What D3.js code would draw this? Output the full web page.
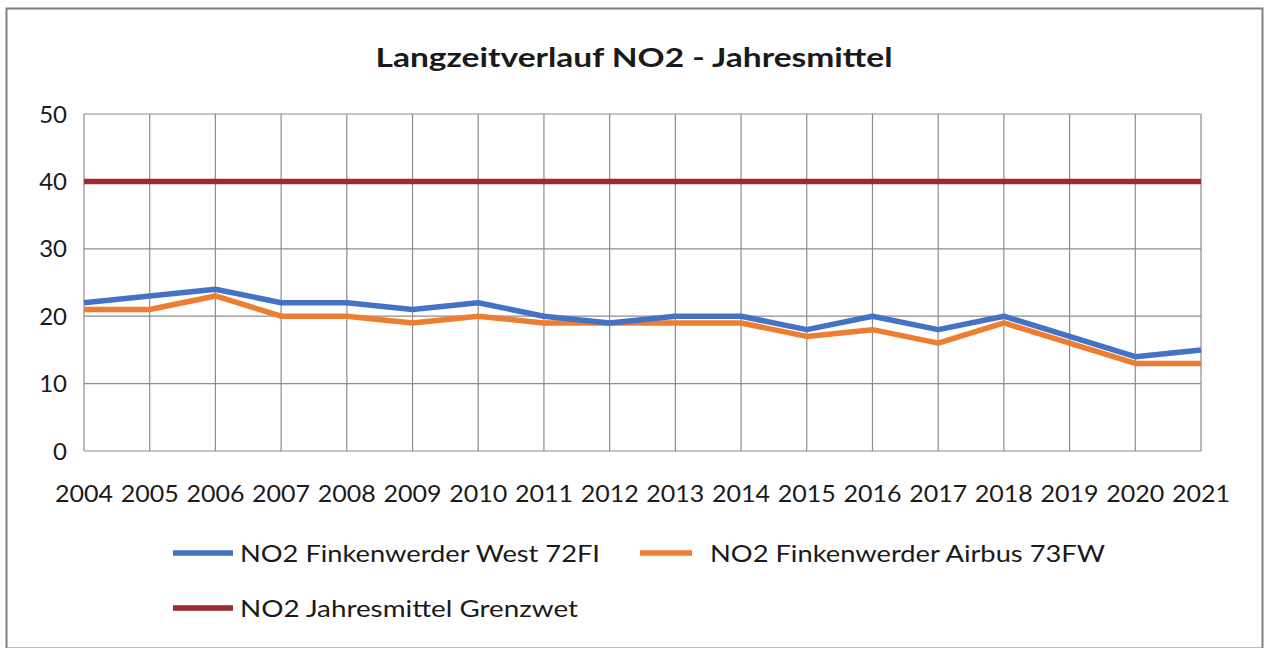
<!DOCTYPE html>
<html>
<head>
<meta charset="utf-8">
<script src="https://cdn.jsdelivr.net/npm/d3@7"></script>
<style>
  body { margin: 0; background: #fff; }
  text { font-family: Lato, "Open Sans", sans-serif; fill: #1a1a1a; }
</style>
</head>
<body>
<svg id="chart"></svg>
<script>
// chart data
const years = [2004, 2005, 2006, 2007, 2008, 2009, 2010, 2011, 2012, 2013, 2014, 2015, 2016, 2017, 2018, 2019, 2020, 2021];
const west72FI = [22, 23, 24, 22, 22, 21, 22, 20, 19, 20, 20, 18, 20, 18, 20, 17, 14, 15];
const airbus73FW = [21, 21, 23, 20, 20, 19, 20, 19, 19, 19, 19, 17, 18, 16, 19, 16, 13, 13];
const grenzwert = [40, 40, 40, 40, 40, 40, 40, 40, 40, 40, 40, 40, 40, 40, 40, 40, 40, 40];
const yTicks = [0, 10, 20, 30, 40, 50];

const seriesNames = ["NO2 Finkenwerder West 72FI", "NO2 Finkenwerder Airbus 73FW", "NO2 Jahresmittel Grenzwet"];
const seriesColors = ["#4472C4", "#ED7D31", "#9E2A2F"];

const width = 1265, height = 648;
const margin = { left: 84, right: 64, top: 114, bottom: 197 };

const svg = d3.select("#chart")
    .attr("width", width)
    .attr("height", height);

// outer frame
svg.append("rect")
    .attr("x", 6.5).attr("y", 8.5)
    .attr("width", 1256).attr("height", 640)
    .attr("fill", "#fff")
    .attr("stroke", "#7f7f7f")
    .attr("stroke-width", 2);

const x = d3.scalePoint()
    .domain(years)
    .range([margin.left, width - margin.right]);

const y = d3.scaleLinear()
    .domain([0, 50])
    .range([height - margin.bottom, margin.top]);

// gridlines
const grid = svg.append("g").attr("stroke", "#8c8c8c").attr("stroke-width", 1.2);
grid.selectAll(".h")
    .data(yTicks)
    .join("line")
    .attr("x1", x.range()[0]).attr("x2", x.range()[1])
    .attr("y1", d => y(d)).attr("y2", d => y(d));
grid.selectAll(".v")
    .data(years)
    .join("line")
    .attr("x1", d => x(d)).attr("x2", d => x(d))
    .attr("y1", y(0)).attr("y2", y(50));

// y axis labels
svg.append("g")
    .selectAll("text")
    .data(yTicks)
    .join("text")
    .attr("x", 67)
    .attr("y", d => y(d))
    .attr("dy", "0.36em")
    .attr("text-anchor", "end")
    .attr("font-size", 24)
    .text(d => d);

// x axis labels
svg.append("g")
    .selectAll("text")
    .data(years)
    .join("text")
    .attr("x", d => x(d))
    .attr("y", 502)
    .attr("text-anchor", "middle")
    .attr("font-size", 24)
    .attr("textLength", 58)
    .attr("lengthAdjust", "spacingAndGlyphs")
    .text(d => d);

// lines
const line = d3.line()
    .x((d, i) => x(years[i]))
    .y(d => y(d));

const allSeries = [west72FI, airbus73FW, grenzwert];
// draw red first, then orange, then blue on top
[2, 1, 0].forEach(k => {
    svg.append("path")
        .datum(allSeries[k])
        .attr("fill", "none")
        .attr("stroke", seriesColors[k])
        .attr("stroke-width", 5.5)
        .attr("stroke-linejoin", "round")
        .attr("d", line);
});

// title
svg.append("text")
    .attr("x", 634)
    .attr("y", 67)
    .attr("text-anchor", "middle")
    .attr("font-size", 27)
    .attr("font-weight", "bold")
    .attr("textLength", 517)
    .attr("lengthAdjust", "spacingAndGlyphs")
    .text("Langzeitverlauf NO2 - Jahresmittel");

// legend
const legendItems = [
    { x: 173, y: 553, w: 360 },
    { x: 640, y: 553, w: 395 },
    { x: 173, y: 608, w: 338 }
];
const legend = svg.append("g")
    .selectAll("g")
    .data(seriesNames)
    .join("g")
    .attr("transform", (d, i) => `translate(${legendItems[i].x},${legendItems[i].y})`);
legend.append("line")
    .attr("x1", 0).attr("x2", (d, i) => i === 1 ? 52 : 60)
    .attr("stroke", (d, i) => seriesColors[i])
    .attr("stroke-width", 5.5);
legend.append("text")
    .attr("x", (d, i) => i === 1 ? 70 : 67)
    .attr("dy", "0.36em")
    .attr("font-size", 24)
    .attr("textLength", (d, i) => legendItems[i].w)
    .attr("lengthAdjust", "spacingAndGlyphs")
    .text(d => d);
</script>
</body>
</html>
